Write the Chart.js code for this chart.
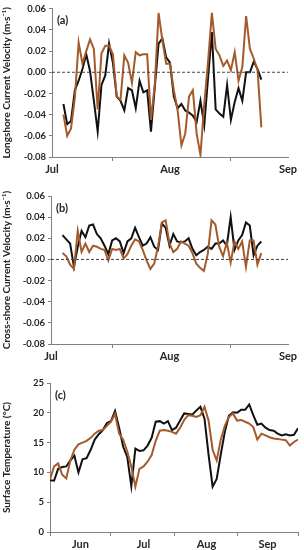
<!DOCTYPE html>
<html>
<head>
<meta charset="utf-8">
<script src="https://cdn.jsdelivr.net/npm/chart.js@4.4.0/dist/chart.umd.min.js"></script>
<style>
  body { margin: 0; background: #fff; width: 304px; height: 550px; overflow: hidden; }
  .panel { position: absolute; left: 0; width: 304px; }
</style>
</head>
<body>
<div class="panel" style="top:0px;height:180px"><canvas id="chartA" width="304" height="180"></canvas></div>
<div class="panel" style="top:180px;height:185px"><canvas id="chartB" width="304" height="185"></canvas></div>
<div class="panel" style="top:365px;height:185px"><canvas id="chartC" width="304" height="185"></canvas></div>
<script>
// day of the record (0 = 1 Jul) for the velocity panels
const velDays = [3, 4, 5, 6, 7, 8, 9, 10, 11, 12, 13, 14, 15, 16, 17, 18, 19, 20, 21, 22,
  23, 24, 25, 26, 27, 28, 29, 30, 31, 32, 33, 34, 35, 36, 37, 38, 39, 40, 41, 42,
  43, 44, 45, 46, 47, 48, 49, 50, 51, 52, 53, 54, 55];

// (a) longshore velocity, m/s
const longBlack = [-0.030, -0.049, -0.046, -0.017, -0.008, 0.003, 0.017, 0.001, -0.027, -0.056,
  -0.012, -0.003, 0.027, 0.009, -0.023, -0.027, -0.036, -0.015, -0.017, -0.034,
  -0.008, -0.019, -0.017, -0.056, -0.014, 0.027, 0.032, 0.014, 0.009, -0.023,
  -0.034, -0.030, -0.036, -0.038, -0.041, -0.047, -0.027, -0.050, -0.005, 0.038,
  -0.035, -0.039, -0.042, -0.012, -0.045, -0.028, -0.015, -0.027, 0.000, 0.000,
  0.010, 0.003, -0.007];
const longBrown = [-0.040, -0.060, -0.053, -0.024, 0.028, 0.008, 0.020, 0.031, 0.022, -0.035,
  0.018, 0.025, 0.025, 0.017, -0.023, -0.026, 0.016, 0.009, -0.010, 0.019,
  0.016, 0.017, 0.017, -0.045, -0.012, 0.056, 0.030, 0.008, 0.008, -0.017,
  -0.036, -0.069, -0.058, -0.023, -0.017, -0.058, -0.078, -0.030, 0.010, 0.056,
  0.022, 0.016, 0.006, 0.011, 0.002, 0.019, -0.008, 0.005, 0.053, 0.022,
  0.013, 0.002, -0.052];

// (b) cross-shore velocity, m/s
const crossBlack = [0.023, 0.019, 0.015, -0.007, 0.012, 0.027, 0.021, 0.032, 0.033, 0.024,
  0.020, 0.013, 0.005, 0.018, 0.020, 0.017, 0.006, 0.017, 0.020, 0.030,
  0.021, 0.013, 0.015, 0.021, 0.012, 0.009, 0.034, 0.030, 0.013, 0.024,
  0.017, 0.016, 0.017, 0.020, 0.010, 0.004, 0.007, 0.009, 0.012, 0.010,
  0.015, 0.015, 0.018, 0.013, 0.040, 0.009, 0.018, 0.023, 0.035, 0.032,
  0.004, 0.013, 0.017];
const crossBrown = [0.006, 0.003, -0.005, -0.009, 0.027, 0.007, 0.015, 0.007, 0.013, 0.012,
  0.010, 0.009, -0.001, 0.010, 0.009, 0.010, 0.001, 0.005, 0.013, 0.019,
  0.017, 0.009, -0.001, -0.009, -0.004, 0.012, 0.035, 0.037, 0.015, 0.007,
  0.010, 0.017, 0.015, 0.013, 0.006, -0.004, -0.008, -0.011, 0.005, 0.037,
  0.033, 0.012, 0.003, 0.016, -0.003, 0.017, 0.010, 0.017, -0.007, 0.018,
  0.018, -0.005, 0.006];

// (c) day of record (0 = 1 Jun) and surface temperature, deg C
const tempDays = [0, 2, 4, 6, 8, 10, 12, 14, 16, 18, 20, 22, 24, 26, 28, 30, 32, 34, 36, 38,
  40, 42, 44, 46, 48, 50, 52, 54, 56, 58, 60, 62, 64, 66, 68, 70, 72, 74, 76, 78,
  80, 82, 84, 86, 88, 90, 92, 94, 96, 98, 100, 102, 104, 106, 108, 110, 112, 114, 116, 118,
  120, 122];
const tempBlack = [8.7, 8.6, 10.6, 10.9, 11.0, 12.0, 12.8, 10.0, 12.2, 12.4,
  13.8, 15.5, 16.4, 17.1, 18.3, 18.6, 20.3, 17.5, 14.3, 12.6,
  7.7, 14.0, 13.6, 13.7, 14.5, 15.8, 18.5, 18.6, 18.2, 18.6,
  17.1, 17.5, 18.7, 19.9, 19.8, 19.7, 20.4, 21.0, 19.0, 13.0,
  7.6, 8.9, 13.0, 16.8, 19.5, 20.1, 20.0, 20.5, 20.5, 21.4,
  19.6, 18.0, 18.2, 17.5, 17.1, 17.0, 16.5, 16.2, 16.4, 16.2,
  16.3, 17.4];
const tempBrown = [8.8, 11.0, 11.5, 9.6, 9.0, 12.0, 13.8, 14.7, 15.0, 15.3,
  15.8, 16.5, 17.0, 17.1, 17.8, 18.5, 19.8, 16.5, 15.5, 13.5,
  11.0, 7.6, 10.6, 11.0, 11.8, 12.9, 15.3, 17.0, 17.1, 17.0,
  16.8, 16.5, 17.5, 18.8, 19.6, 19.5, 19.3, 19.6, 21.0, 18.7,
  13.8, 12.0, 15.5, 17.8, 19.3, 19.9, 18.7, 18.8, 18.5, 18.2,
  17.6, 15.5, 16.5, 16.2, 15.9, 15.7, 15.6, 15.5, 15.4, 14.5,
  15.1, 15.5];

// axis ticks: month labels and the plain tick marks between them
const velTicks = [0, 16, 31, 47, 62];
const velTickLabels = ['Jul', '', 'Aug', '', 'Sep'];
const tempTicks = [0, 15, 30, 46, 61, 77, 92, 107, 122];
const tempTickLabels = ['', 'Jun', '', 'Jul', '', 'Aug', '', 'Sep', ''];

const BLACK = '#111111';
const BROWN = '#a45a2a';
const AXIS = '#808080';
const TEXT = '#262626';

Chart.defaults.font.family = 'Lato, "Liberation Sans", sans-serif';
Chart.defaults.color = TEXT;

const panelLabel = {
    id: 'panelLabel',
    afterDraw(chart, args, opts) {
        const ctx = chart.ctx;
        ctx.save();
        ctx.font = 'bold 11px Lato, "Liberation Sans", sans-serif';
        ctx.fillStyle = '#222';
        ctx.textBaseline = 'middle';
        ctx.fillText(opts.text, chart.chartArea.left + 5, chart.chartArea.top + 12);
        ctx.restore();
    }
};

function toPoints(xs, ys) {
    return xs.map((x, i) => ({ x: x, y: ys[i] }));
}

function line(data, color, width) {
    return {
        data: data,
        borderColor: color,
        borderWidth: width,
        pointRadius: 0,
        tension: 0,
        fill: false
    };
}

function makeChart(id, cfg) {
    const ctx = document.getElementById(id).getContext('2d');
    const ticks = cfg.xTicks;
    const labels = cfg.xLabels;
    return new Chart(ctx, {
        type: 'line',
        data: { datasets: cfg.datasets },
        plugins: [panelLabel],
        options: {
            responsive: false,
            animation: false,
            layout: { padding: cfg.padding },
            plugins: {
                legend: { display: false },
                tooltip: { enabled: false },
                panelLabel: { text: cfg.label }
            },
            scales: {
                x: {
                    type: 'linear',
                    min: ticks[0],
                    max: ticks[ticks.length - 1],
                    afterBuildTicks: (scale) => {
                        scale.ticks = ticks.map(v => ({ value: v }));
                    },
                    afterFit: (scale) => { scale.height = cfg.xHeight; },
                    border: { display: true, color: AXIS, width: 1 },
                    grid: {
                        drawOnChartArea: false,
                        tickLength: 4,
                        tickColor: (c) => (c.tick && labels[ticks.indexOf(c.tick.value)] === '') ? AXIS : 'rgba(0,0,0,0)'
                    },
                    ticks: {
                        autoSkip: false,
                        maxRotation: 0,
                        padding: 2,
                        font: { size: 11, weight: 'bold' },
                        callback: (v) => {
                            const i = ticks.indexOf(v);
                            return i >= 0 ? labels[i] : '';
                        }
                    }
                },
                y: {
                    min: cfg.yMin,
                    max: cfg.yMax,
                    afterFit: (scale) => { scale.width = cfg.yWidth; },
                    border: { display: true, color: AXIS, width: 1 },
                    grid: { drawOnChartArea: false, tickLength: 3, tickColor: AXIS },
                    title: {
                        display: true,
                        text: cfg.yTitle,
                        color: '#222',
                        font: { size: 10, weight: 'bold' },
                        padding: { top: 1, bottom: 0 }
                    },
                    ticks: {
                        stepSize: cfg.yStep,
                        padding: 3,
                        font: { size: 9.5, weight: 'bold' },
                        callback: cfg.yFormat
                    }
                }
            }
        }
    });
}

function velFormat(v) {
    return Math.abs(v) < 1e-9 ? '0.00' : v.toFixed(2);
}

const zeroLine = {
    data: toPoints([0, 62], [0, 0]),
    borderColor: '#444',
    borderWidth: 1,
    borderDash: [3, 2],
    pointRadius: 0,
    fill: false
};

makeChart('chartA', {
    label: '(a)',
    datasets: [
        zeroLine,
        line(toPoints(velDays, longBrown), BROWN, 2),
        line(toPoints(velDays, longBlack), BLACK, 2)
    ],
    xTicks: velTicks, xLabels: velTickLabels,
    yMin: -0.08, yMax: 0.06, yStep: 0.02, yFormat: velFormat,
    yTitle: 'Longshore Current Velocity (m\u00b7s\u207b\u00b9)',
    padding: { top: 8, right: 16, bottom: 0, left: 0 },
    yWidth: 52, xHeight: 23
});

makeChart('chartB', {
    label: '(b)',
    datasets: [
        Object.assign({}, zeroLine),
        line(toPoints(velDays, crossBrown), BROWN, 2),
        line(toPoints(velDays, crossBlack), BLACK, 2)
    ],
    xTicks: velTicks, xLabels: velTickLabels,
    yMin: -0.08, yMax: 0.06, yStep: 0.02, yFormat: velFormat,
    yTitle: 'Cross-shore Current Velocity (m\u00b7s\u207b\u00b9)',
    padding: { top: 16, right: 16, bottom: 0, left: 0 },
    yWidth: 51, xHeight: 21
});

makeChart('chartC', {
    label: '(c)',
    datasets: [
        line(toPoints(tempDays, tempBrown), BROWN, 2),
        line(toPoints(tempDays, tempBlack), BLACK, 2)
    ],
    xTicks: tempTicks, xLabels: tempTickLabels,
    yMin: 0, yMax: 25, yStep: 5, yFormat: (v) => v,
    yTitle: 'Surface Temperature (\u00b0C)',
    padding: { top: 18, right: 6, bottom: 0, left: 0 },
    yWidth: 50, xHeight: 18
});
</script>
</body>
</html>
